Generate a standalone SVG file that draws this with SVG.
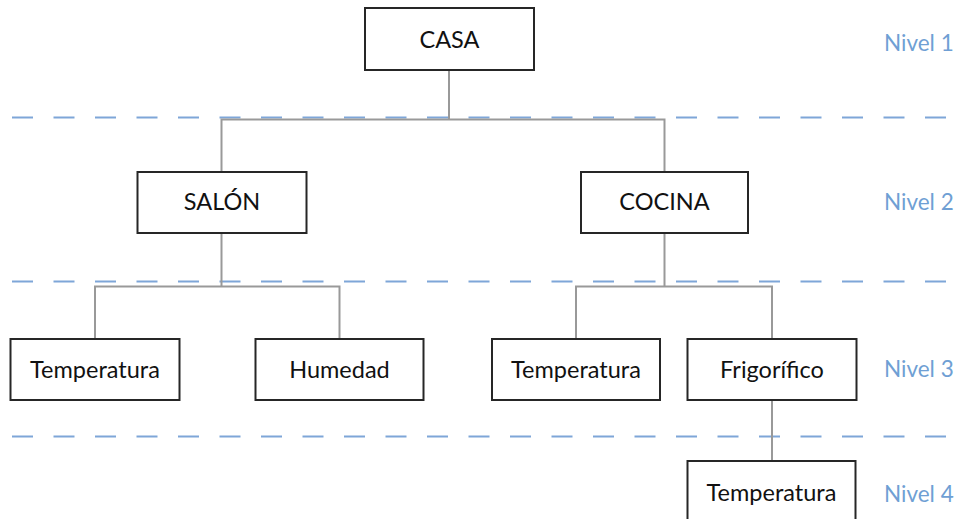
<svg xmlns="http://www.w3.org/2000/svg" width="958" height="519" viewBox="0 0 958 519">
  <style>
    .box { fill: #ffffff; stroke: #262626; stroke-width: 2; }
    .label { font-family: Lato, "Open Sans", "Liberation Sans", sans-serif; font-size: 23.5px; fill: #111111; text-anchor: middle; }
    .level { font-family: Lato, "Open Sans", "Liberation Sans", sans-serif; font-size: 22.5px; fill: #6f9fd4; }
    .sep { stroke: #7ea6d8; stroke-width: 2.2; stroke-dasharray: 21 20.5; fill: none; }
    .link { stroke: #999999; stroke-width: 2; fill: none; }
  </style>
  <rect width="958" height="519" fill="#ffffff"/>

  <!-- level separators -->
  <g id="separators">
    <line class="sep" x1="12" y1="117.5" x2="946" y2="117.5"/>
    <line class="sep" x1="12" y1="281.5" x2="946" y2="281.5"/>
    <line class="sep" x1="12" y1="436.5" x2="946" y2="436.5"/>
  </g>

  <!-- tree connectors -->
  <g id="connectors">
    <path class="link" d="M449 70 V119.5 M221.5 172 V119.5 H664.5 V172"/>
    <path class="link" d="M221.5 233 V286.5 M95 338 V286.5 H339.5 V338"/>
    <path class="link" d="M664.5 233 V286.5 M576 338 V286.5 H772 V338"/>
    <path class="link" d="M772 400 V461"/>
  </g>

  <g id="casa">
    <rect class="box" x="365" y="8" width="169" height="62"/>
    <text class="label" x="449.5" y="47.5">CASA</text>
  </g>
  <g id="salon">
    <rect class="box" x="137.5" y="172" width="169" height="61"/>
    <text class="label" x="222" y="209.5">SALÓN</text>
  </g>
  <g id="cocina">
    <rect class="box" x="581" y="172" width="167" height="61"/>
    <text class="label" x="664.5" y="209.5">COCINA</text>
  </g>
  <g id="salon-temperatura">
    <rect class="box" x="10.5" y="339" width="169" height="61"/>
    <text class="label" x="95" y="378">Temperatura</text>
  </g>
  <g id="salon-humedad">
    <rect class="box" x="255.5" y="339" width="168" height="61"/>
    <text class="label" x="339.5" y="378">Humedad</text>
  </g>
  <g id="cocina-temperatura">
    <rect class="box" x="492" y="339" width="168" height="61"/>
    <text class="label" x="576" y="378">Temperatura</text>
  </g>
  <g id="frigorifico">
    <rect class="box" x="687.5" y="339" width="169" height="61"/>
    <text class="label" x="772" y="378">Frigorífico</text>
  </g>
  <g id="frigorifico-temperatura">
    <rect class="box" x="687.5" y="461" width="168" height="70"/>
    <text class="label" x="771.5" y="501">Temperatura</text>
  </g>

  <g id="levels">
    <text class="level" x="884" y="51">Nivel 1</text>
    <text class="level" x="884" y="210">Nivel 2</text>
    <text class="level" x="884" y="377">Nivel 3</text>
    <text class="level" x="884" y="502">Nivel 4</text>
  </g>
</svg>
